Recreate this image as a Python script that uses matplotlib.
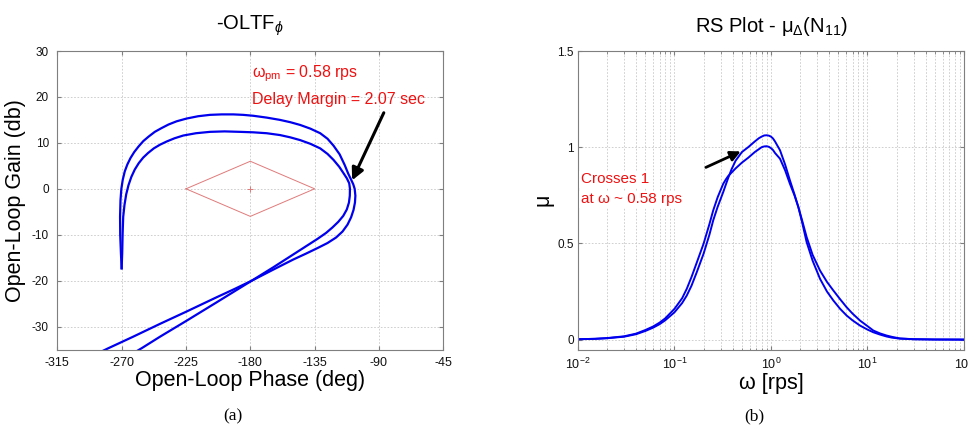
import numpy as np
import matplotlib
matplotlib.use("Agg")
import matplotlib.pyplot as plt
from matplotlib.ticker import LogLocator, NullFormatter

plt.rcParams['font.family'] = ['Liberation Sans', 'DejaVu Sans']
plt.rcParams['mathtext.fontset'] = 'custom'
plt.rcParams['mathtext.rm'] = 'Liberation Sans'
plt.rcParams['mathtext.it'] = 'Liberation Sans:italic'
plt.rcParams['mathtext.bf'] = 'Liberation Sans:bold'

# ---------------- Nichols plot data (phase deg, gain dB) ----------------
outer_phase = [-270.0, -270.5, -271.0, -271.1, -270.8, -270.2, -269.2, -267.8, -266.0, -263.8,
               -261.2, -258.2, -254.8, -251.0, -246.8, -242.2, -237.2, -231.5, -224.5, -216.5,
               -208.2, -200.0, -191.9, -185.0, -177.9, -168.5, -159.2, -152.0, -145.1, -138.0,
               -131.1, -126.0, -121.8, -117.5, -114.0, -111.5, -109.5, -108.0, -107.0, -106.5,
               -106.8, -107.8, -109.5, -112.0, -115.5, -120.0, -126.0, -133.0, -141.0, -150.0,
               -164.0, -179.0, -191.0, -203.5, -224.5, -243.2, -262.0, -279.3, -286.0]
outer_gain = [-17.3, -14.0, -10.0, -6.1, -2.5, 0.0, 2.0, 3.8, 5.3, 6.7,
              8.0, 9.2, 10.4, 11.4, 12.4, 13.2, 14.0, 14.7, 15.3, 15.8,
              16.1, 16.2, 16.2, 16.1, 15.9, 15.5, 15.0, 14.5, 13.9, 13.1,
              12.1, 10.9, 9.4, 7.5, 5.2, 3.3, 2.0, 1.0, 0.0, -1.5,
              -3.0, -4.6, -6.2, -7.8, -9.3, -10.6, -11.8, -12.9, -14.1, -15.4,
              -17.6, -20.0, -21.8, -23.6, -26.7, -29.4, -32.2, -34.7, -35.7]

inner_phase = [-270.0, -269.6, -269.3, -268.9, -268.0, -266.8, -265.2, -263.2, -260.8, -258.0,
               -254.9, -251.5, -247.5, -243.2, -238.5, -233.0, -226.9, -218.0, -208.2, -198.0,
               -187.2, -178.0, -168.5, -159.2, -152.0, -145.1, -138.0, -131.1, -126.0, -121.8,
               -117.8, -114.8, -112.5, -110.8, -110.3, -110.4, -111.0, -112.5, -115.0, -118.5,
               -122.5, -127.0, -133.0, -140.0, -150.0, -164.0, -179.0, -191.0, -203.5, -224.5,
               -243.2, -256.0, -263.0]
inner_gain = [-17.3, -14.0, -9.7, -6.1, -3.5, -1.2, 0.8, 2.6, 4.2, 5.6,
              6.8, 7.8, 8.8, 9.6, 10.3, 11.0, 11.6, 12.1, 12.4, 12.5,
              12.4, 12.3, 12.1, 11.7, 11.2, 10.6, 9.8, 8.8, 7.6, 6.3,
              4.8, 3.4, 2.3, 1.2, 0.0, -1.5, -3.0, -4.5, -5.9, -7.2,
              -8.4, -9.6, -10.9, -12.3, -14.3, -17.1, -20.0, -22.3, -24.7, -28.7,
              -32.2, -34.7, -36.0]

margin_phase = [-225, -180, -135, -180, -225]
margin_gain = [0, 6, 0, -6, 0]

# ---------------- mu plot data ----------------
omega = [0.01, 0.015, 0.02, 0.03, 0.04, 0.05, 0.06, 0.07, 0.08, 0.1,
         0.12, 0.134, 0.15, 0.17, 0.2, 0.23, 0.252, 0.28, 0.32, 0.34,
         0.36, 0.39, 0.43, 0.5, 0.58, 0.68, 0.75, 0.8, 0.85, 0.9,
         0.95, 1.0, 1.05, 1.1, 1.24, 1.4, 1.57, 1.75, 1.92, 2.1,
         2.34, 2.7, 3.22, 3.8, 4.43, 5.2, 6.08, 7.0, 8.36, 10.0,
         11.5, 13.5, 15.8, 18.0, 21.7, 30.0, 50.0, 100.0]
mu_a = [0.002, 0.004, 0.007, 0.015, 0.028, 0.045, 0.062, 0.080, 0.100, 0.142,
        0.190, 0.229, 0.280, 0.350, 0.446, 0.545, 0.620, 0.690, 0.767, 0.805,
        0.840, 0.885, 0.930, 0.975, 1.000, 1.030, 1.047, 1.055, 1.061, 1.062,
        1.060, 1.055, 1.045, 1.030, 0.984, 0.910, 0.828, 0.755, 0.689, 0.610,
        0.507, 0.410, 0.316, 0.250, 0.203, 0.160, 0.125, 0.100, 0.073, 0.052,
        0.038, 0.026, 0.016, 0.010, 0.005, 0.002, 0.0005, 0.0]
mu_b = [0.002, 0.004, 0.008, 0.017, 0.031, 0.050, 0.068, 0.088, 0.110, 0.160,
        0.215, 0.264, 0.325, 0.400, 0.498, 0.600, 0.672, 0.740, 0.810, 0.832,
        0.850, 0.868, 0.890, 0.920, 0.945, 0.975, 0.990, 1.000, 1.004, 1.005,
        1.002, 0.995, 0.985, 0.970, 0.940, 0.880, 0.810, 0.750, 0.689, 0.620,
        0.533, 0.440, 0.359, 0.300, 0.255, 0.210, 0.168, 0.135, 0.099, 0.070,
        0.047, 0.032, 0.021, 0.014, 0.006, 0.002, 0.0005, 0.0]

phase_ticks = [-315, -270, -225, -180, -135, -90, -45]
gain_ticks = [-30, -20, -10, 0, 10, 20, 30]
mu_ticks = [0, 0.5, 1, 1.5]
mu_ticklabels = ['0', '0.5', '1', '1.5']

BLUE = '#0000ee'
RED = '#ee1111'
GRID = dict(color='#c8c8c8', linestyle=(0, (2, 2)), linewidth=0.6)

fig = plt.figure(figsize=(9.7, 4.33), dpi=100)

W, H = 970.0, 433.0
axb, axt = 349.6, 51.0
ax1 = fig.add_axes([57.3 / W, 1 - axb / H, 386 / W, (axb - axt) / H])
ax2 = fig.add_axes([578 / W, 1 - axb / H, 386 / W, (axb - axt) / H])

for ax in (ax1, ax2):
    for s in ax.spines.values():
        s.set_color('#7f7f7f')
        s.set_linewidth(0.8)
    ax.tick_params(direction='in', top=True, right=True, color='#7f7f7f',
                   length=3, labelcolor='#111111')
    ax.set_axisbelow(True)

# ---- left: Nichols ----
ax1.plot(margin_phase, margin_gain, color='#e07a7a', lw=0.7)
ax1.plot([-180], [0], marker='+', color='#e07a7a', ms=4, mew=0.7)
ax1.plot(outer_phase, outer_gain, color=BLUE, lw=1.6)
ax1.plot(inner_phase, inner_gain, color=BLUE, lw=1.6)
ax1.set_xlim(-315, -45)
ax1.set_ylim(-35, 30)
ax1.set_xticks(phase_ticks)
ax1.set_yticks(gain_ticks)
ax1.set_xticklabels([str(t) for t in phase_ticks])
ax1.set_yticklabels([str(t) for t in gain_ticks])
ax1.tick_params(axis='x', labelsize=9, pad=5)
ax1.tick_params(axis='y', labelsize=8.5, pad=6)
ax1.grid(True, **GRID)
ax1.set_xlabel('Open-Loop Phase (deg)', fontsize=15.5, labelpad=1)
ax1.set_ylabel('Open-Loop Gain (db)', fontsize=15.5, labelpad=4)

ax1.text(-178.8, 25.0, r'$\mathrm{\omega_{pm}}$ = 0.58 rps', color=RED, fontsize=11.5,
         va='center', ha='left')
ax1.text(-178.8, 19.5, 'Delay Margin = 2.07 sec', color=RED, fontsize=11.5,
         va='center', ha='left')
ax1.annotate('', xy=(-109.6, 1.3), xytext=(-85.8, 17.1),
             arrowprops=dict(arrowstyle='-|>', color='k', lw=2.2, mutation_scale=18))

# ---- right: mu ----
ax2.plot(omega, mu_a, color=BLUE, lw=1.4)
ax2.plot(omega, mu_b, color=BLUE, lw=1.4)
ax2.set_xscale('log')
ax2.set_xlim(1e-2, 1e2)
ax2.set_ylim(-0.052, 1.5)
ax2.set_xticks([1e-2, 1e-1, 1e0, 1e1, 1e2])
ax2.xaxis.set_minor_locator(LogLocator(base=10, subs=np.arange(2, 10), numticks=20))
ax2.xaxis.set_minor_formatter(NullFormatter())
ax2.set_yticks(mu_ticks)
ax2.set_yticklabels(mu_ticklabels)
ax2.tick_params(axis='x', labelsize=9, pad=5)
ax2.tick_params(axis='y', labelsize=8.5, pad=3)
ax2.tick_params(which='minor', direction='in', top=True, length=1.8, color='#7f7f7f')
ax2.grid(True, which='major', **GRID)
ax2.grid(True, which='minor', axis='x', **GRID)
ax2.set_xlabel('ω [rps]', fontsize=15.5, labelpad=1)
ax2.set_ylabel('μ', fontsize=15.5, labelpad=3)

bb = dict(facecolor='white', edgecolor='none', pad=1.0)
ax2.text(0.0107, 0.833, 'Crosses 1', color=RED, fontsize=11, va='center', ha='left', bbox=bb)
ax2.text(0.0107, 0.729, 'at ω ~ 0.58 rps', color=RED, fontsize=11, va='center', ha='left', bbox=bb)
ax2.annotate('', xy=(0.516, 0.984), xytext=(0.199, 0.889),
             arrowprops=dict(arrowstyle='-|>', color='k', lw=2.0, mutation_scale=15))

# ---- titles and captions ----
fig.text(250.3 / W, 1 - 26 / H, r'-OLTF$_{\phi}$', fontsize=14.5, ha='center', va='center')
fig.text(771 / W, 1 - 26 / H, r'RS Plot - $\mathrm{\mu_{\Delta}}$(N$_{11}$)', fontsize=14.5,
         ha='center', va='center')
fig.text(233.3 / W, 1 - 416.7 / H, '(a)', fontsize=12.5, ha='center', va='center',
         family='Liberation Serif')
fig.text(754 / W, 1 - 416.7 / H, '(b)', fontsize=12.5, ha='center', va='center',
         family='Liberation Serif')

fig.savefig('out.png', dpi=100)
